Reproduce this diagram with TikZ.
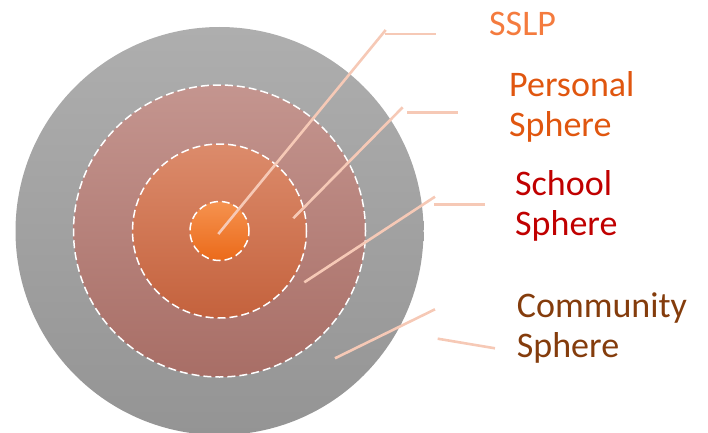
\documentclass[tikz,border=0pt]{standalone}
\usepackage{fontspec}
\setmainfont{Carlito}
\definecolor{outerTop}{HTML}{AEAEAE}
\definecolor{outerBot}{HTML}{949494}
\definecolor{persTop}{HTML}{C4958F}
\definecolor{persBot}{HTML}{A86E66}
\definecolor{schTop}{HTML}{DC8B6B}
\definecolor{schBot}{HTML}{C4623D}
\definecolor{coreTop}{HTML}{F5924F}
\definecolor{coreBot}{HTML}{EB6A1A}
\definecolor{leader}{HTML}{F6C9B6}
\definecolor{cSSLP}{HTML}{F47B3E}
\definecolor{cPers}{HTML}{E0560F}
\definecolor{cSch}{HTML}{C00000}
\definecolor{cCom}{HTML}{843C0C}
\begin{document}
\begin{tikzpicture}[x=1pt,y=1pt,
  ring/.style={draw=white, line width=1.5pt, dash pattern=on 8pt off 4pt},
  leaderline/.style={draw=leader, line width=2.6pt},
  lbl/.style={anchor=base west, inner sep=0pt, align=left, font=\fontsize{36}{40}\selectfont}]
\useasboundingbox (0,0) rectangle (708,432);
% circles
\path[shade, top color=outerTop, bottom color=outerBot] (219.5,201) circle (204pt);
\path[shade, top color=persTop, bottom color=persBot] (219.5,201) circle (146pt);
\path[ring] (219.5,201) circle (146pt);
\path[shade, top color=schTop, bottom color=schBot] (219.5,201) circle (87pt);
\path[ring] (219.5,201) circle (87pt);
\path[shade, top color=coreTop, bottom color=coreBot] (219.5,201) circle (29.5pt);
\path[ring] (219.5,201) circle (29.5pt);
\node[inner sep=0pt, minimum size=0pt] (center) at (219.5,201) {};
% leader coordinates
\coordinate (a1) at (218.3,198);
\coordinate (a2) at (385.7,402);
\coordinate (a3) at (385,398);
\coordinate (a4) at (435.7,398);
\coordinate (b1) at (293.3,213.7);
\coordinate (b2) at (402.7,324.7);
\coordinate (b3) at (407.3,319.7);
\coordinate (b4) at (457.7,319.7);
\coordinate (c1) at (304.3,149.7);
\coordinate (c2) at (435,235.3);
\coordinate (c3) at (434.3,227.7);
\coordinate (c4) at (485,227.7);
\coordinate (d1) at (335,73.7);
\coordinate (d2) at (435,122.7);
\coordinate (d3) at (437.7,93.3);
\coordinate (d4) at (495,83.7);
\draw[leaderline] (a1) -- (a2);
\draw[leaderline] (a3) -- (a4);
\draw[leaderline] (b1) -- (b2);
\draw[leaderline] (b3) -- (b4);
\draw[leaderline] (c1) -- (c2);
\draw[leaderline] (c3) -- (c4);
\draw[leaderline] (d1) -- (d2);
\draw[leaderline] (d3) -- (d4);
% labels
\node[lbl, text=cSSLP] (sslp) at (489,396.3) {SSLP};
\node[lbl, text=cPers, anchor=north west] (pers) at (509,337+24) {Personal\\Sphere};
\node[lbl, text=cSch, anchor=north west] (sch) at (515,237.7+24) {School\\Sphere};
\node[lbl, text=cCom, anchor=north west] (com) at (516.7,115.3+24) {Community\\Sphere};
\end{tikzpicture}
\end{document}
